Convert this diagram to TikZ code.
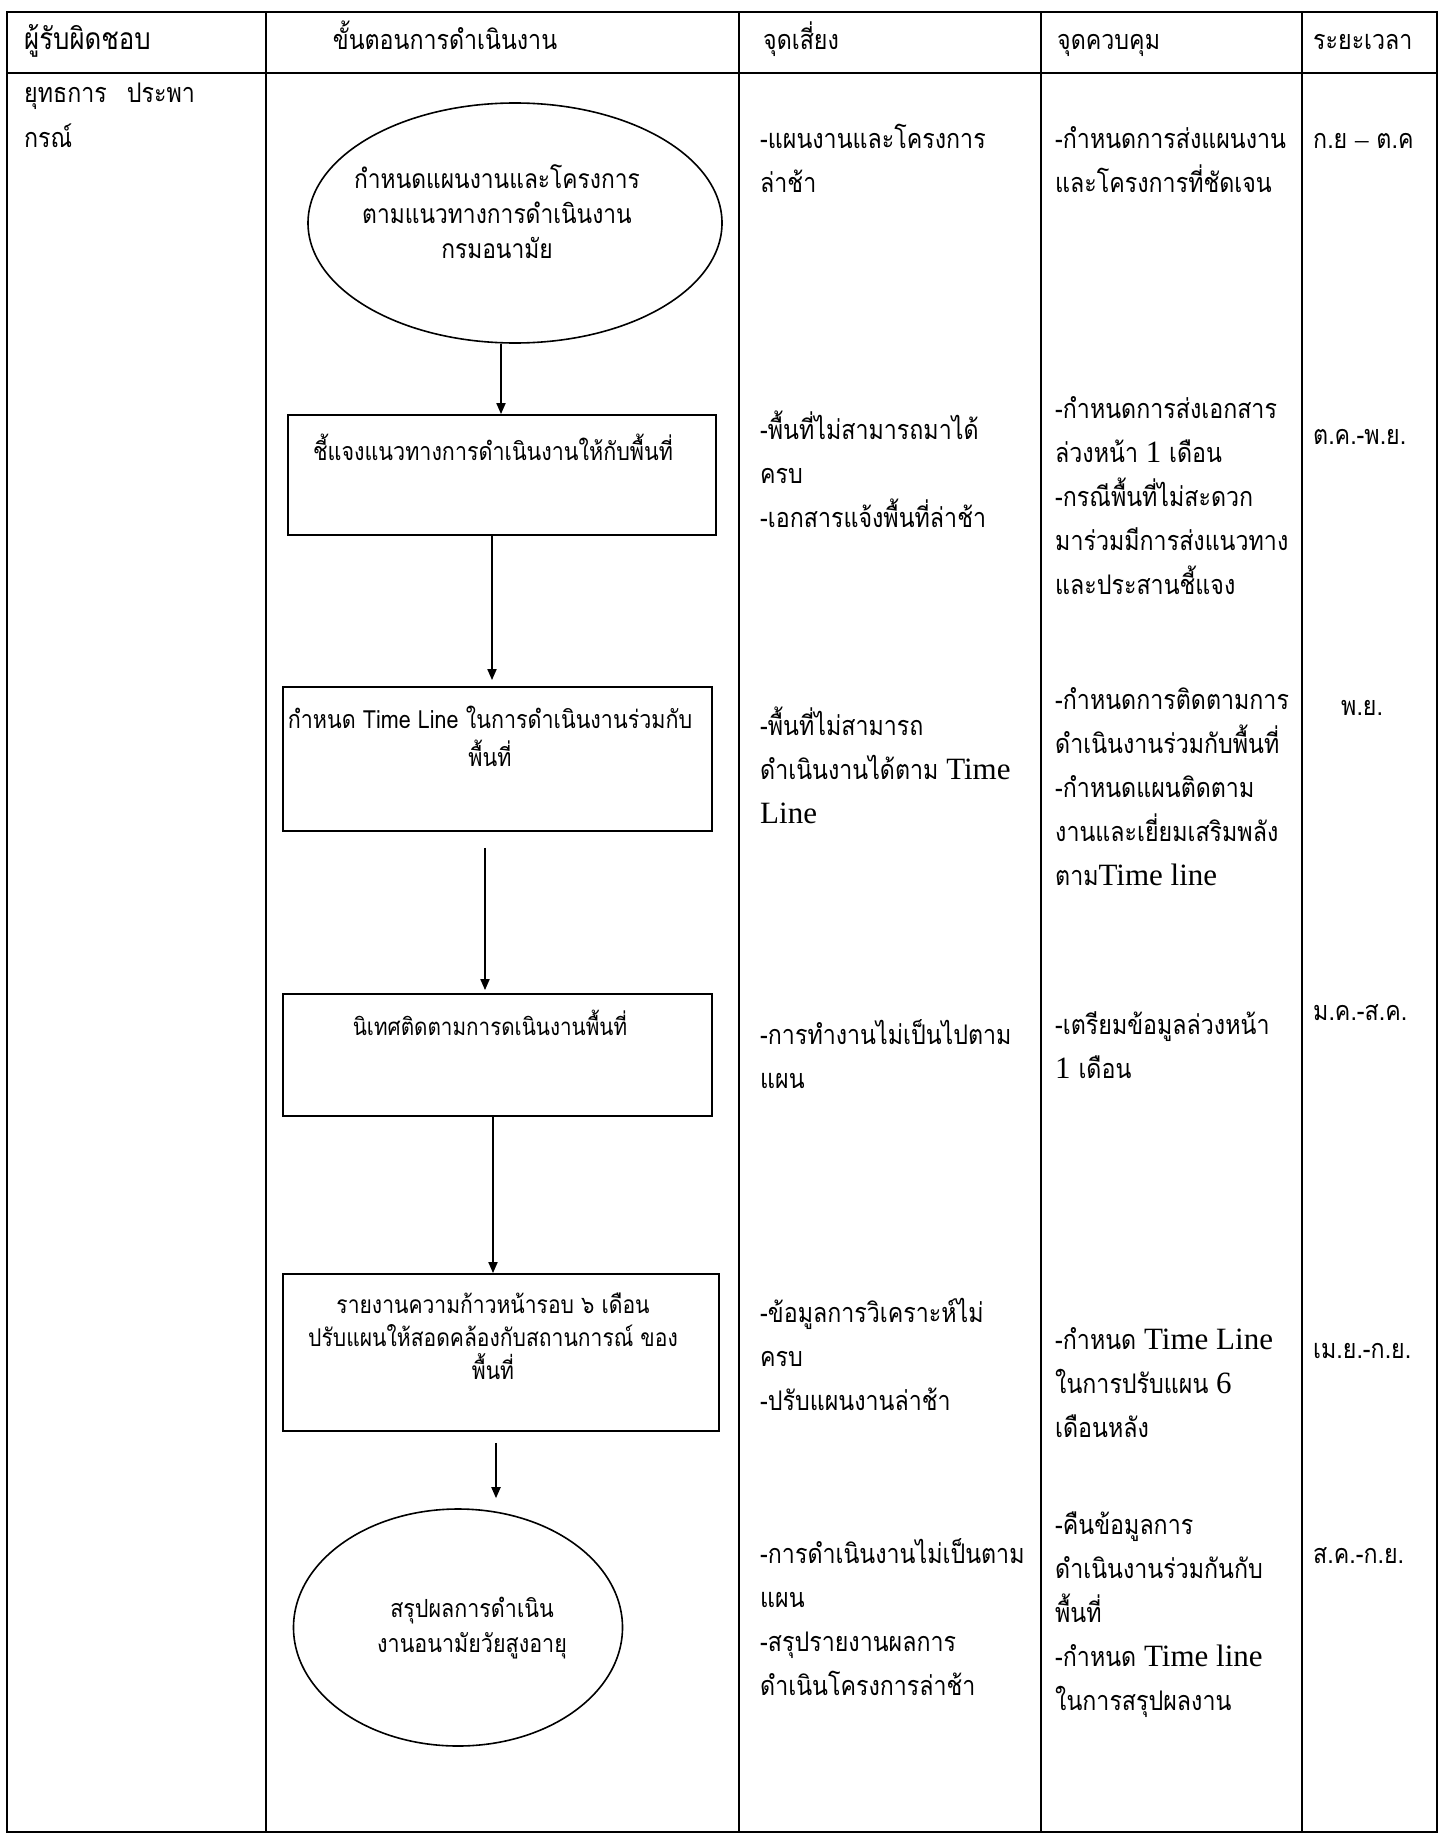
\documentclass[tikz,border=0pt]{standalone}
\usepackage{fontspec}
\usetikzlibrary{arrows.meta,shapes.geometric}
\newfontfamily\thr[Script=Thai,FakeStretch=0.86]{Loma}
\newfontfamily\thb[Script=Thai,FakeStretch=0.86]{Loma}
\newfontfamily\lserif{Liberation Serif}
\newcommand\lsr[1]{{\lserif\fontsize{31}{44}\selectfont #1}}
\begin{document}
\begin{tikzpicture}[x=1pt,y=-1pt,
  tbl/.style={line width=2.2pt},
  fbox/.style={draw, line width=1.8pt, rectangle, inner sep=0pt},
  fell/.style={draw, line width=1.6pt, ellipse, inner sep=0pt},
  flow/.style={line width=1.8pt, -{Triangle[length=11pt,width=9pt]}},
  rtext/.style={anchor=north west, align=left, inner sep=0pt, font=\thr\fontsize{27}{44}\selectfont},
  htext/.style={anchor=base west, inner sep=0pt, font=\thr\fontsize{27}{44}\selectfont},
  btext/.style={anchor=north, align=center, inner sep=0pt, font=\thb\fontsize{25}{35}\selectfont}]
\useasboundingbox (0,0) rectangle (1441,1841);
\fill[white] (0,0) rectangle (1441,1841);
% table
\draw[tbl] (7,12) rectangle (1437,1832);
\draw[tbl] (7,73) -- (1437,73);
\foreach \x in {266,739,1041,1302} \draw[tbl] (\x,12) -- (\x,1832);
% headers
\node[htext, font=\thr\fontsize{30}{44}\selectfont] (h1) at (24,50) {ผู้รับผิดชอบ};
\node[htext, anchor=base] (h2) at (445,50) {ขั้นตอนการดำเนินงาน};
\node[htext] (h3) at (763,50) {จุดเสี่ยง};
\node[htext] (h4) at (1057,50) {จุดควบคุม};
\node[htext] (h5) at (1313,50) {ระยะเวลา};
% responsible
\node[rtext] (resp) at (24,72) {\strut ยุทธการ\hspace{20pt}ประพา\\กรณ์};
% flow shapes
\node[fell, minimum width=414pt, minimum height=240pt] (e1) at (515,223) {};
\node[fbox, minimum width=428pt, minimum height=120pt] (b1) at (502,475) {};
\node[fbox, minimum width=429pt, minimum height=144pt] (b2) at (497.5,759) {};
\node[fbox, minimum width=429pt, minimum height=122pt] (b3) at (497.5,1055) {};
\node[fbox, minimum width=436pt, minimum height=157pt] (b4) at (501,1352.5) {};
\node[fell, minimum width=329pt, minimum height=237pt] (e2) at (458,1627.5) {};
% shape texts
\node[btext, font=\thb\fontsize{26.5}{35}\selectfont] (te1) at (497,164) {\strut กำหนดแผนงานและโครงการ\\ตามแนวทางการดำเนินงาน\\กรมอนามัย};
\node[btext] (tb1) at (493,434) {\strut ชี้แจงแนวทางการดำเนินงานให้กับพื้นที่};
\node[btext] (tb2) at (490,704) {\strut กำหนด Time Line ในการดำเนินงานร่วมกับ\\พื้นที่};
\node[btext, font=\thb\fontsize{24}{35}\selectfont] (tb3) at (490,1010) {\strut นิเทศติดตามการดเนินงานพื้นที่};
\node[btext, font=\thb\fontsize{24.5}{33}\selectfont] (tb4) at (493,1290) {\strut รายงานความก้าวหน้ารอบ ๖ เดือน\\ปรับแผนให้สอดคล้องกับสถานการณ์ ของ\\พื้นที่};
\node[btext] (te2) at (472,1593) {\strut สรุปผลการดำเนิน\\งานอนามัยวัยสูงอายุ};
% connectors
\draw[flow] ([xshift=-14pt]e1.south) -- ([xshift=-14pt]e1.south |- b1.north);
\draw[flow, shorten >=6pt] ([xshift=-10pt]b1.south) -- ([xshift=-10pt]b1.south |- b2.north);
\draw[flow, shorten <=16pt, shorten >=3pt] ([xshift=-12.5pt]b2.south) -- ([xshift=-12.5pt]b2.south |- b3.north);
\draw[flow] ([xshift=-4.5pt]b3.south) -- ([xshift=-4.5pt]b3.south |- b4.north);
\draw[flow, shorten <=11pt, shorten >=10pt] ([xshift=-5pt]b4.south) -- ([xshift=-5pt]b4.south |- e2.north);
% risk column
\node[rtext] (r1) at (760,117) {\strut -แผนงานและโครงการ\\ล่าช้า};
\node[rtext] (r2) at (760,408) {\strut -พื้นที่ไม่สามารถมาได้\\ครบ\\-เอกสารแจ้งพื้นที่ล่าช้า};
\node[rtext] (r3) at (760,704) {\strut -พื้นที่ไม่สามารถ\\ดำเนินงานได้ตาม \lsr{Time}\\\lsr{Line}};
\node[rtext] (r4) at (760,1013) {\strut -การทำงานไม่เป็นไปตาม\\แผน};
\node[rtext] (r5) at (760,1291) {\strut -ข้อมูลการวิเคราะห์ไม่\\ครบ\\-ปรับแผนงานล่าช้า};
\node[rtext] (r6) at (760,1532) {\strut -การดำเนินงานไม่เป็นตาม\\แผน\\-สรุปรายงานผลการ\\ดำเนินโครงการล่าช้า};
% control column
\node[rtext] (c1) at (1055,117) {\strut -กำหนดการส่งแผนงาน\\และโครงการที่ชัดเจน};
\node[rtext] (c2) at (1055,387) {\strut -กำหนดการส่งเอกสาร\\ล่วงหน้า \lsr{1} เดือน\\-กรณีพื้นที่ไม่สะดวก\\มาร่วมมีการส่งแนวทาง\\และประสานชี้แจง};
\node[rtext] (c3) at (1055,678) {\strut -กำหนดการติดตามการ\\ดำเนินงานร่วมกับพื้นที่\\-กำหนดแผนติดตาม\\งานและเยี่ยมเสริมพลัง\\ตาม\lsr{Time line}};
\node[rtext] (c4) at (1055,1003) {\strut -เตรียมข้อมูลล่วงหน้า\\\lsr{1} เดือน};
\node[rtext] (c5) at (1055,1318) {\strut -กำหนด \lsr{Time Line}\\ในการปรับแผน \lsr{6}\\เดือนหลัง};
\node[rtext] (c6) at (1055,1503) {\strut -คืนข้อมูลการ\\ดำเนินงานร่วมกันกับ\\พื้นที่\\-กำหนด \lsr{Time line}\\ในการสรุปผลงาน};
% time column
\node[rtext] (t1) at (1313,117) {\strut ก.ย {\lserif –} ต.ค};
\node[rtext] (t2) at (1313,413) {\strut ต.ค.-พ.ย.};
\node[rtext] (t3) at (1341,684) {\strut พ.ย.};
\node[rtext] (t4) at (1313,989) {\strut ม.ค.-ส.ค.};
\node[rtext] (t5) at (1313,1327) {\strut เม.ย.-ก.ย.};
\node[rtext] (t6) at (1313,1532) {\strut ส.ค.-ก.ย.};
\end{tikzpicture}
\end{document}
